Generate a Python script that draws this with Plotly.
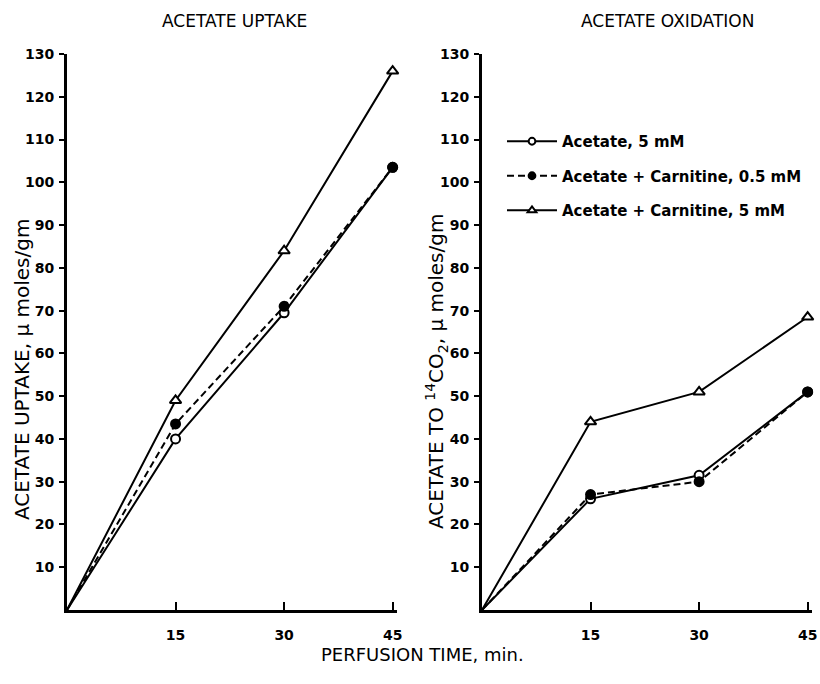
import plotly.graph_objects as go

# ---- data ----
time_min = [0, 15, 30, 45]

uptake_acetate = [0, 40, 69.5, 103.5]
uptake_carn_05 = [0, 43.5, 71, 103.5]
uptake_carn_5 = [0, 49, 84, 126]

oxid_acetate = [0, 26, 31.5, 51]
oxid_carn_05 = [0, 27, 30, 51]
oxid_carn_5 = [0, 44, 51, 68.5]

series_names = ["Acetate, 5 mM", "Acetate + Carnitine, 0.5 mM", "Acetate + Carnitine, 5 mM"]
y_ticks = [10, 20, 30, 40, 50, 60, 70, 80, 90, 100, 110, 120, 130]
x_ticks = [15, 30, 45]

# ---- layout geometry (page pixels) ----
W, H = 820, 684
def px(x):
    return x / W
def py(y):
    return 1 - y / H

FONT = "DejaVu Sans"
styles = [
    dict(symbol="circle", fill="white", dash="solid", size=9),
    dict(symbol="circle", fill="black", dash="7px,4px", size=9),
    dict(symbol="triangle-up", fill="white", dash="solid", size=10),
]

fig = go.Figure()

panels = [
    ("x", "y", [uptake_acetate, uptake_carn_05, uptake_carn_5], True),
    ("x2", "y2", [oxid_acetate, oxid_carn_05, oxid_carn_5], False),
]
for xa, ya, ys, first in panels:
    for i, (vals, st) in enumerate(zip(ys, styles)):
        fig.add_trace(go.Scatter(
            x=time_min, y=vals, xaxis=xa, yaxis=ya,
            mode="lines+markers",
            name=series_names[i],
            legendgroup=f"g{i}",
            showlegend=not first,
            cliponaxis=False,
            line=dict(color="black", width=2, dash=st["dash"]),
            marker=dict(symbol=st["symbol"], size=[0] + [st["size"]] * (len(vals) - 1),
                        color=st["fill"], opacity=1,
                        line=dict(color="black", width=2)),
        ))

ydom = [py(610), py(54)]
left_dom = [px(67), px(397)]
right_dom = [px(482), px(812)]

tickfont = dict(family=FONT, size=14, color="black", weight="bold")

def xaxis(dom, anchor):
    return dict(domain=dom, range=[0, 45.6], tickvals=x_ticks, ticks="inside", ticklen=8,
                tickwidth=2, tickcolor="black", showline=True, linewidth=3, linecolor="black",
                showgrid=False, zeroline=False, tickfont=tickfont, ticklabelstandoff=10,
                automargin=False, anchor=anchor)

def yaxis(anchor):
    return dict(domain=ydom, range=[0, 130], tickvals=y_ticks, ticks="outside", ticklen=5,
                tickwidth=2, tickcolor="black", showline=True, linewidth=3, linecolor="black",
                showgrid=False, zeroline=False, tickfont=tickfont, anchor=anchor,
                ticklabelstandoff=2, automargin=False)

def yinner(over, anchor):
    return dict(domain=ydom, range=[0, 130], tickvals=y_ticks, ticks="inside", ticklen=5,
                tickwidth=2, tickcolor="black", showline=False, showgrid=False, zeroline=False,
                showticklabels=False, overlaying=over, anchor=anchor, automargin=False)

fig.update_layout(
    template="none",
    width=W, height=H,
    margin=dict(l=0, r=0, t=0, b=0, pad=0, autoexpand=False),
    plot_bgcolor="white", paper_bgcolor="white",
    font=dict(family=FONT, color="black"),
    xaxis=xaxis(left_dom, "y"),
    xaxis2=xaxis(right_dom, "y2"),
    yaxis=yaxis("x"),
    yaxis2=yaxis("x2"),
    yaxis3=yinner("y", "x"),
    yaxis4=yinner("y2", "x2"),
    legend=dict(x=px(502), y=py(125), xanchor="left", yanchor="top",
                bgcolor="rgba(0,0,0,0)", borderwidth=0,
                font=dict(family=FONT, size=15, weight="bold"),
                tracegroupgap=12, itemwidth=50),
    showlegend=True,
)

annots = [
    dict(text="ACETATE UPTAKE", x=px(235), y=py(21), size=17, angle=0),
    dict(text="ACETATE OXIDATION", x=px(667), y=py(21), size=17, angle=0),
    dict(text="PERFUSION TIME, min.", x=px(422), y=py(654), size=18, angle=0),
    dict(text="ACETATE UPTAKE, \u03bc moles/gm", x=px(22), y=py(370), size=20, angle=-90),
    dict(text="ACETATE TO <sup>14</sup>CO<sub>2</sub>, \u03bc moles/gm", x=px(436), y=py(372), size=20, angle=-90),
]
for a in annots:
    fig.add_annotation(text=a["text"], x=a["x"], y=a["y"], xref="paper", yref="paper",
                       xanchor="center", yanchor="middle", showarrow=False, textangle=a["angle"],
                       font=dict(family=FONT, size=a["size"], color="black"))

fig.write_html("out.html",
               config={"displayModeBar": False},
               post_script="document.body.style.margin='0';document.body.style.overflow='hidden';")
